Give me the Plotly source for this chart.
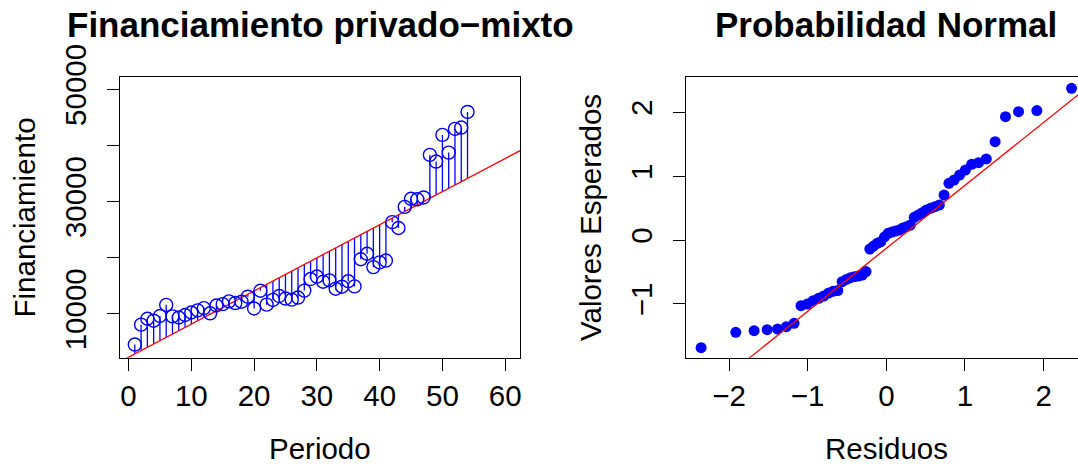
import plotly.graph_objects as go

# ---- data -------------------------------------------------------------
periodo = list(range(1, 55))
financiamiento = [
    4500, 8050, 9100, 8750, 9590, 11580, 9530, 9320, 9770, 10210,
    10600, 11000, 10070, 11460, 11700, 12200, 11900, 12140, 13030, 10930,
    14090, 11610, 12470, 13150, 12700, 12500, 12880, 14120, 16180, 16620,
    15700, 15940, 14460, 14810, 15780, 14870, 19710, 20690, 18310, 19140,
    19470, 26320, 25280, 29050, 30480, 30390, 30720, 38310, 37120, 41870,
    38720, 42940, 43180, 45960,
]
# fitted trend line (intercept, slope)
trend_a, trend_b = 2240.0, 590.5

# normal scores and ordered standardised residuals
cuantiles = [
    -2.355, -1.914, -1.681, -1.515, -1.383, -1.271, -1.173, -1.085, -1.005, -0.931,
    -0.862, -0.796, -0.734, -0.674, -0.617, -0.562, -0.508, -0.456, -0.405, -0.355,
    -0.306, -0.258, -0.210, -0.163, -0.116, -0.070, -0.023, 0.023, 0.070, 0.116,
    0.163, 0.210, 0.258, 0.306, 0.355, 0.405, 0.456, 0.508, 0.562, 0.617,
    0.674, 0.734, 0.796, 0.862, 0.931, 1.005, 1.085, 1.173, 1.271, 1.383,
    1.515, 1.681, 1.914, 2.355,
]
residuos = [
    -1.685, -1.445, -1.419, -1.403, -1.393, -1.356, -1.304, -1.028, -1.002, -0.949,
    -0.913, -0.876, -0.830, -0.800, -0.790, -0.652, -0.616, -0.589, -0.574, -0.563,
    -0.548, -0.494, -0.141, -0.094, -0.052, -0.026, 0.050, 0.104, 0.125, 0.140,
    0.156, 0.188, 0.209, 0.235, 0.355, 0.391, 0.428, 0.469, 0.496, 0.522,
    0.548, 0.704, 0.887, 0.939, 1.017, 1.095, 1.184, 1.210, 1.268, 1.538,
    1.930, 2.008, 2.025, 2.374,
]
qq_a, qq_b = -0.13, 0.985

left_xticks = [0, 10, 20, 30, 40, 50, 60]
left_yticks = [10000, 20000, 30000, 40000, 50000]
left_ytext = ["10000", "", "30000", "", "50000"]
right_xticks = [-2, -1, 0, 1, 2]
right_yticks = [-1, 0, 1, 2]

# ---- geometry ---------------------------------------------------------
W, H = 1078, 465
FONT = "Liberation Sans"
TICK = 29.5
BLUE, RED = "#0000FF", "#FF0000"

def px_x(p):
    return p / W

def px_y(p):
    return 1 - p / H

left_xrange = [-1.36, 62.36]
right_xrange = [-2.547, 2.437]

fig = go.Figure()

# stems from trend line to each observation
seg_x, seg_y = [], []
for x, y in zip(periodo, financiamiento):
    seg_x += [x, x, None]
    seg_y += [trend_a + trend_b * x, y, None]
fig.add_trace(go.Scatter(x=seg_x, y=seg_y, mode="lines",
                         line=dict(color=BLUE, width=1.3),
                         xaxis="x", yaxis="y", hoverinfo="skip"))
fig.add_trace(go.Scatter(x=left_xrange,
                         y=[trend_a + trend_b * v for v in left_xrange],
                         mode="lines", line=dict(color=RED, width=1.3),
                         xaxis="x", yaxis="y"))
fig.add_trace(go.Scatter(x=periodo, y=financiamiento, mode="markers",
                         marker=dict(symbol="circle-open", size=13,
                                     color=BLUE, line=dict(width=1.4, color=BLUE)),
                         xaxis="x", yaxis="y"))

# normal probability plot
fig.add_trace(go.Scatter(x=cuantiles, y=residuos, mode="markers",
                         marker=dict(symbol="circle", size=11, color=BLUE,
                                     line=dict(width=0)),
                         xaxis="x2", yaxis="y2"))
fig.add_trace(go.Scatter(x=right_xrange,
                         y=[qq_a + qq_b * v for v in right_xrange],
                         mode="lines", line=dict(color=RED, width=1.3),
                         xaxis="x2", yaxis="y2"))

ydom = [px_y(357.8), px_y(77.3)]
axis_common = dict(showgrid=False, zeroline=False, showline=True,
                   linecolor="black", linewidth=1, ticks="outside",
                   ticklen=12, tickwidth=1, tickcolor="black",
                   automargin=False,
                   tickfont=dict(family=FONT, size=TICK, color="black"))

fig.update_layout(
    width=W, height=H, showlegend=False,
    margin=dict(l=0, r=0, t=0, b=0),
    paper_bgcolor="white", plot_bgcolor="white",
    font=dict(family=FONT, color="black"),
    xaxis=dict(domain=[px_x(120), px_x(520)], range=left_xrange,
               tickvals=left_xticks, ticktext=[str(v) for v in left_xticks],
               mirror=True, anchor="y", **axis_common),
    yaxis=dict(domain=ydom, range=[2139, 52138],
               tickvals=left_yticks, ticktext=left_ytext, tickangle=-90,
               ticklabelstandoff=9,
               mirror=True, anchor="x", **axis_common),
    xaxis2=dict(domain=[px_x(686), 1.0], range=right_xrange,
                tickvals=right_xticks,
                ticktext=[str(v).replace("-", "\u2212") for v in right_xticks],
                mirror=True, anchor="y2", **axis_common),
    yaxis2=dict(domain=ydom, range=[-1.843, 2.546],
                tickvals=right_yticks,
                ticktext=[str(v).replace("-", "\u2212") for v in right_yticks],
                tickangle=-90, ticklabelstandoff=9,
                mirror=False, anchor="x2", **axis_common),
)

def label(text, x, y, size=TICK, bold=False, angle=0):
    fig.add_annotation(text=f"<b>{text}</b>" if bold else text,
                       x=px_x(x), y=px_y(y), xref="paper", yref="paper",
                       xanchor="center", yanchor="middle", showarrow=False,
                       textangle=angle,
                       font=dict(family=FONT, size=size, color="black"))

label("Financiamiento privado\u2212mixto", 320, 25, size=35, bold=True)
label("Probabilidad Normal", 886, 25, size=35, bold=True)
label("Periodo", 320, 448)
label("Residuos", 886, 448)
label("Financiamiento", 24, 217.5, angle=-90)
label("Valores Esperados", 590.5, 217.5, angle=-90)

fig.write_html("out.html")
